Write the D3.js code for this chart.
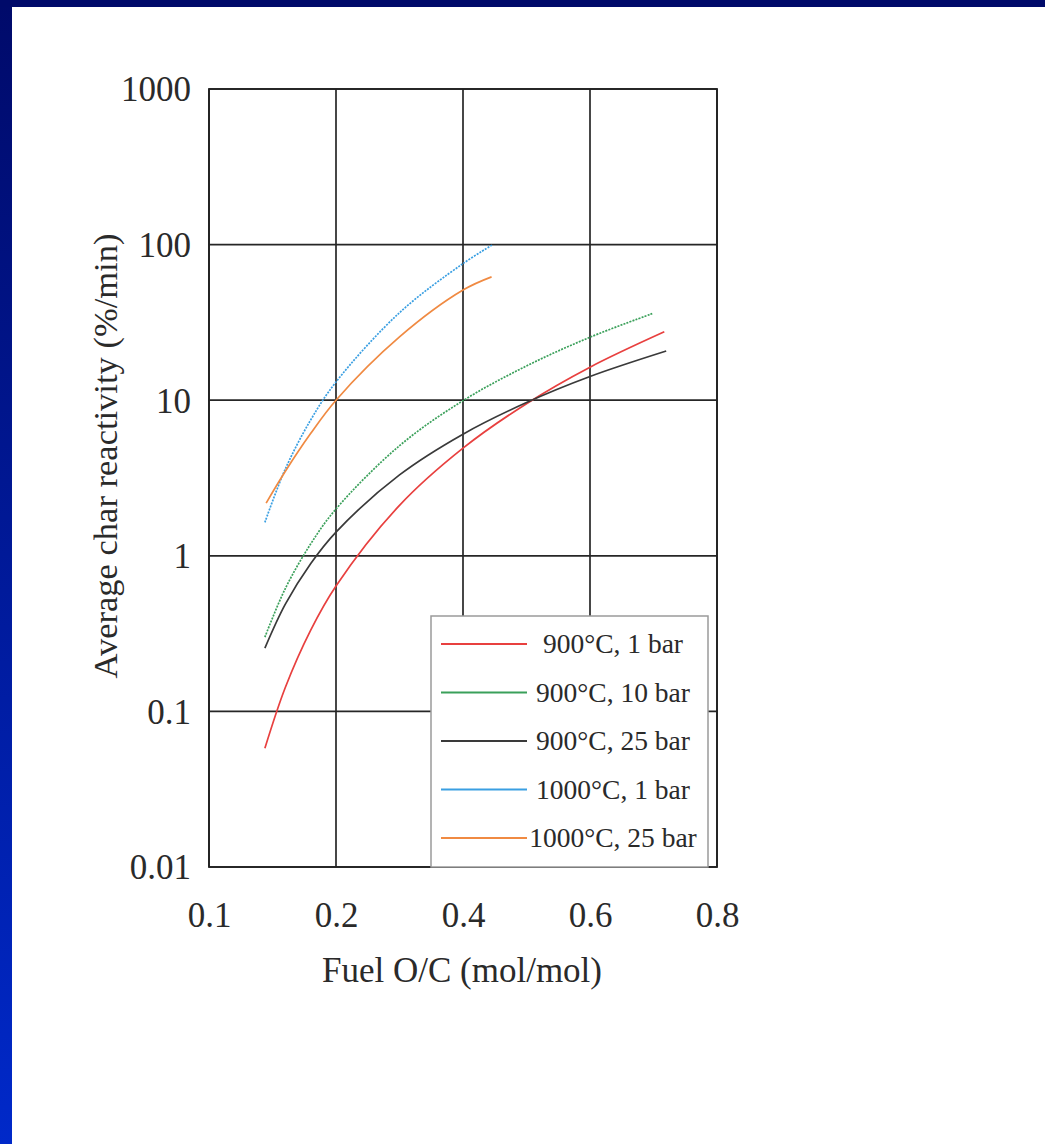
<!DOCTYPE html>
<html>
<head>
<meta charset="utf-8">
<script src="https://cdn.jsdelivr.net/npm/d3@7"></script>
<style>
  html, body { margin: 0; padding: 0; background: #ffffff; }
  svg { display: block; }
  text { font-family: "Liberation Serif", "Times New Roman", serif; fill: #2a2a2a; }
</style>
</head>
<body>
<div id="chart"></div>
<script>
// ---------------- data ----------------
const xTickValues = [0, 0.2, 0.4, 0.6, 0.8];
const xTickLabels = ["0.1", "0.2", "0.4", "0.6", "0.8"];
const yTickValues = [0.01, 0.1, 1, 10, 100, 1000];
const yTickLabels = ["0.01", "0.1", "1", "10", "100", "1000"];

const seriesNames = ["900°C, 1 bar", "900°C, 10 bar", "900°C, 25 bar", "1000°C, 1 bar", "1000°C, 25 bar"];

const x900_1 = [0.088, 0.12, 0.16, 0.2, 0.3, 0.4, 0.5, 0.6, 0.717];
const y900_1 = [0.058, 0.142, 0.332, 0.64, 2.11, 4.92, 9.5, 16.3, 27.5];

const x900_10 = [0.088, 0.12, 0.16, 0.2, 0.3, 0.4, 0.5, 0.6, 0.698];
const y900_10 = [0.30, 0.614, 1.19, 2.0, 5.1, 9.93, 16.6, 25.4, 36.0];

const x900_25 = [0.088, 0.12, 0.16, 0.2, 0.3, 0.4, 0.5, 0.6, 0.72];
const y900_25 = [0.255, 0.487, 0.889, 1.42, 3.31, 6.05, 9.66, 14.2, 20.7];

const x1000_1 = [0.088, 0.12, 0.16, 0.2, 0.3, 0.4, 0.447];
const y1000_1 = [1.64, 3.60, 7.45, 13.1, 36.5, 75.5, 100];

const x1000_25 = [0.09, 0.12, 0.16, 0.2, 0.3, 0.4, 0.445];
const y1000_25 = [2.18, 3.48, 6.1, 10, 25.5, 51, 62];

const seriesX = [x900_1, x900_10, x900_25, x1000_1, x1000_25];
const seriesY = [y900_1, y900_10, y900_25, y1000_1, y1000_25];

// ---------------- styles ----------------
const colors = ["#e8403f", "#3aa05a", "#3a3a3a", "#3a9fe2", "#f08a42"];
const dashes = [null, "2,1.2", null, "2,1.2", null];

const W = 1045, H = 1144;
const plot = { left: 209, right: 717, top: 89, bottom: 867 };

const svg = d3.select("#chart").append("svg")
  .attr("width", W).attr("height", H);

// background frame (slide border)
const defs = svg.append("defs");
const grad = defs.append("linearGradient").attr("id", "leftBand")
  .attr("x1", 0).attr("y1", 0).attr("x2", 0).attr("y2", 1);
grad.append("stop").attr("offset", "0%").attr("stop-color", "#000a6a");
grad.append("stop").attr("offset", "100%").attr("stop-color", "#0029c9");

svg.append("rect").attr("x", 0).attr("y", 0).attr("width", W).attr("height", H).attr("fill", "#ffffff");
svg.append("rect").attr("x", 0).attr("y", 0).attr("width", 12).attr("height", H).attr("fill", "url(#leftBand)");
svg.append("rect").attr("x", 0).attr("y", 0).attr("width", W).attr("height", 7).attr("fill", "#000a6a");

// scales
const x = d3.scaleLinear().domain([0, 0.8]).range([plot.left, plot.right]);
const y = d3.scaleLog().domain([0.01, 1000]).range([plot.bottom, plot.top]);

// grid
const gridColor = "#262626";
svg.append("g").selectAll("line.vg").data(xTickValues).join("line")
  .attr("x1", d => x(d)).attr("x2", d => x(d))
  .attr("y1", plot.top).attr("y2", plot.bottom)
  .attr("stroke", gridColor).attr("stroke-width", 1.7);
svg.append("g").selectAll("line.hg").data(yTickValues).join("line")
  .attr("x1", plot.left).attr("x2", plot.right)
  .attr("y1", d => y(d)).attr("y2", d => y(d))
  .attr("stroke", gridColor).attr("stroke-width", 1.7);

// axes (labels only)
const xAxis = d3.axisBottom(x).tickValues(xTickValues)
  .tickFormat((d, i) => xTickLabels[i]).tickSize(0).tickPadding(0);
const gx = svg.append("g").attr("transform", `translate(0,${plot.bottom})`).call(xAxis);
gx.select(".domain").remove();
gx.selectAll("text").attr("dy", null).attr("y", 60)
  .style("font-size", "35px").style("font-family", "Liberation Serif").attr("fill", "#2a2a2a");

const yAxis = d3.axisLeft(y).tickValues(yTickValues)
  .tickFormat((d, i) => yTickLabels[i]).tickSize(0).tickPadding(0);
const gy = svg.append("g").attr("transform", `translate(${plot.left},0)`).call(yAxis);
gy.select(".domain").remove();
gy.selectAll("text").attr("x", -18).attr("dy", "0.34em")
  .style("font-size", "35px").style("font-family", "Liberation Serif").attr("fill", "#2a2a2a");

// axis titles
svg.append("text").attr("x", 462).attr("y", 982).attr("text-anchor", "middle")
  .style("font-size", "35px").text("Fuel O/C (mol/mol)");
svg.append("text").attr("transform", "translate(117,456) rotate(-90)")
  .attr("text-anchor", "middle").style("font-size", "34.5px")
  .text("Average char reactivity (%/min)");

// curves
const line = d3.line().x(d => x(d[0])).y(d => y(d[1])).curve(d3.curveCatmullRom.alpha(0.5));
const gLines = svg.append("g");
seriesX.forEach((xs, i) => {
  const pts = xs.map((v, j) => [v, seriesY[i][j]]);
  gLines.append("path").datum(pts)
    .attr("d", line).attr("fill", "none")
    .attr("stroke", colors[i]).attr("stroke-width", 1.7)
    .attr("stroke-dasharray", dashes[i]);
});

// plot frame
svg.append("rect").attr("x", plot.left).attr("y", plot.top)
  .attr("width", plot.right - plot.left).attr("height", plot.bottom - plot.top)
  .attr("fill", "none").attr("stroke", "#222").attr("stroke-width", 1.8);

// legend
const lg = svg.append("g");
lg.append("rect").attr("x", 431).attr("y", 616).attr("width", 277).attr("height", 251)
  .attr("fill", "#ffffff").attr("stroke", "#9a9a9a").attr("stroke-width", 1.5);
seriesNames.forEach((name, i) => {
  const ly = 644 + i * 48.5;
  lg.append("line").attr("x1", 441).attr("x2", 527).attr("y1", ly).attr("y2", ly)
    .attr("stroke", colors[i]).attr("stroke-width", 1.8);
  lg.append("text").attr("x", 613).attr("y", ly + 9).attr("text-anchor", "middle")
    .style("font-size", "27.5px").text(name);
});
</script>
</body>
</html>
